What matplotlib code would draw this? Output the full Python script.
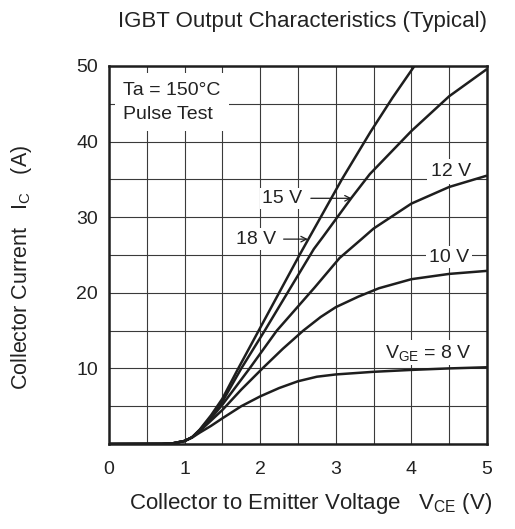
import numpy as np
import matplotlib
matplotlib.use("Agg")
import matplotlib.pyplot as plt

plt.rcParams['font.family'] = ['Liberation Sans', 'DejaVu Sans']
plt.rcParams['mathtext.default'] = 'regular'

# collector current (A) vs collector-emitter voltage (V)
v_18 = [0, 0.7, 0.85, 1.0, 1.1, 1.2, 1.35, 1.5, 1.71, 1.98, 2.52, 2.8, 3.08, 3.46, 3.75, 4.04]
i_18 = [0, 0.02, 0.1, 0.4, 0.9, 1.9, 3.8, 6.0, 10, 15, 25, 30, 35, 41.3, 45.8, 50]

v_15 = [0, 0.7, 0.85, 1.0, 1.1, 1.2, 1.35, 1.5, 1.75, 2.06, 2.71, 2.83, 3.21, 3.45, 4.0, 4.5, 5.0]
i_15 = [0, 0.02, 0.1, 0.4, 0.9, 1.85, 3.6, 5.6, 10, 15, 25.8, 27.4, 32.6, 35.7, 41.4, 46.0, 49.6]

v_12 = [0, 0.7, 0.85, 1.0, 1.1, 1.2, 1.35, 1.5, 1.86, 2.22, 2.72, 3.05, 3.34, 3.5, 4.0, 4.5, 5.0]
i_12 = [0, 0.02, 0.1, 0.4, 0.9, 1.8, 3.4, 5.2, 10, 15, 20.7, 24.6, 27.1, 28.5, 31.8, 34.0, 35.5]

v_10 = [0, 0.7, 0.85, 1.0, 1.1, 1.2, 1.35, 1.5, 1.75, 2.03, 2.3, 2.57, 2.8, 3.0, 3.3, 3.57, 4.0, 4.5, 5.0]
i_10 = [0, 0.02, 0.1, 0.4, 0.9, 1.7, 3.1, 4.5, 7.2, 10, 12.6, 15, 16.8, 18.1, 19.5, 20.6, 21.8, 22.5, 22.9]

v_8 = [0, 0.7, 0.85, 1.0, 1.1, 1.2, 1.35, 1.5, 1.75, 2.0, 2.25, 2.5, 2.75, 3.0, 3.5, 4.0, 4.5, 5.0]
i_8 = [0, 0.02, 0.1, 0.4, 0.85, 1.5, 2.4, 3.4, 5.0, 6.3, 7.4, 8.3, 8.9, 9.2, 9.55, 9.8, 10.0, 10.15]

x_ticks = [0, 1, 2, 3, 4, 5]
y_ticks = [10, 20, 30, 40, 50]

fig = plt.figure(figsize=(5.15, 5.29), dpi=100)
ax = fig.add_axes([109 / 515, 85 / 529, 378 / 515, 378 / 529])

ink = '#1e1e1e'
for v, i in [(v_18, i_18), (v_15, i_15), (v_12, i_12), (v_10, i_10), (v_8, i_8)]:
    ax.plot(v, i, color=ink, lw=1.8, zorder=4, solid_capstyle='butt', solid_joinstyle='round')

ax.set_xlim(0, 5)
ax.set_ylim(0, 50)
ax.set_xticks(x_ticks)
ax.set_yticks(y_ticks)
ax.set_xticks(np.arange(0, 5.01, 0.5), minor=True)
ax.set_yticks(np.arange(0, 50.1, 5), minor=True)
ax.grid(True, which='both', color='#3a3a3a', lw=0.8)
ax.set_axisbelow(True)
ax.tick_params(which='both', length=0, labelsize=14, labelcolor='#222222')
ax.tick_params(axis='x', pad=12)
ax.tick_params(axis='y', pad=8)
for s in ax.spines.values():
    s.set_linewidth(1.8)
    s.set_color(ink)

fs = 14
tc = '#222222'

ax.text(0.19, 45.2, 'Ta = 150°C\nPulse Test', fontsize=fs, color=tc, va='center', ha='left',
        linespacing=1.55, zorder=3, bbox=dict(facecolor='white', edgecolor='none', pad=6))

ax.text(2.29, 32.5, '15 V', fontsize=fs, color=tc, ha='center', va='center', zorder=3,
        bbox=dict(facecolor='white', edgecolor='none', pad=1.5))
ax.annotate('', xy=(3.21, 32.5), xytext=(2.67, 32.5), zorder=5,
            arrowprops=dict(arrowstyle='->', color=ink, lw=0.9, shrinkA=0, shrinkB=0))
ax.text(1.94, 27.1, '18 V', fontsize=fs, color=tc, ha='center', va='center', zorder=3,
        bbox=dict(facecolor='white', edgecolor='none', pad=1.5))
ax.annotate('', xy=(2.63, 27.1), xytext=(2.31, 27.1), zorder=5,
            arrowprops=dict(arrowstyle='->', color=ink, lw=0.9, shrinkA=0, shrinkB=0))

ax.text(4.52, 36.0, '12 V', fontsize=fs, color=tc, ha='center', va='center', zorder=3,
        bbox=dict(facecolor='white', edgecolor='none', pad=3))
ax.text(4.5, 24.7, '10 V', fontsize=fs, color=tc, ha='center', va='center', zorder=3,
        bbox=dict(facecolor='white', edgecolor='none', pad=2))
ax.text(4.22, 12.1, r'$V_{GE}$ = 8 V', fontsize=fs, color=tc, ha='center', va='center', zorder=3,
        bbox=dict(facecolor='white', edgecolor='none', pad=2))

fig.text(302 / 515, 1 - 22 / 529, 'IGBT Output Characteristics (Typical)', fontsize=16,
         color=tc, ha='center', va='center')
fig.text(311 / 515, 1 - 504 / 529, r'Collector to Emitter Voltage   $V_{CE}$ (V)', fontsize=16,
         color=tc, ha='center', va='center')
fig.text(22 / 515, 1 - 267 / 529, r'Collector Current   $I_C$   (A)', fontsize=15.5,
         color=tc, ha='center', va='center', rotation=90)

fig.savefig('out.png', dpi=100)
